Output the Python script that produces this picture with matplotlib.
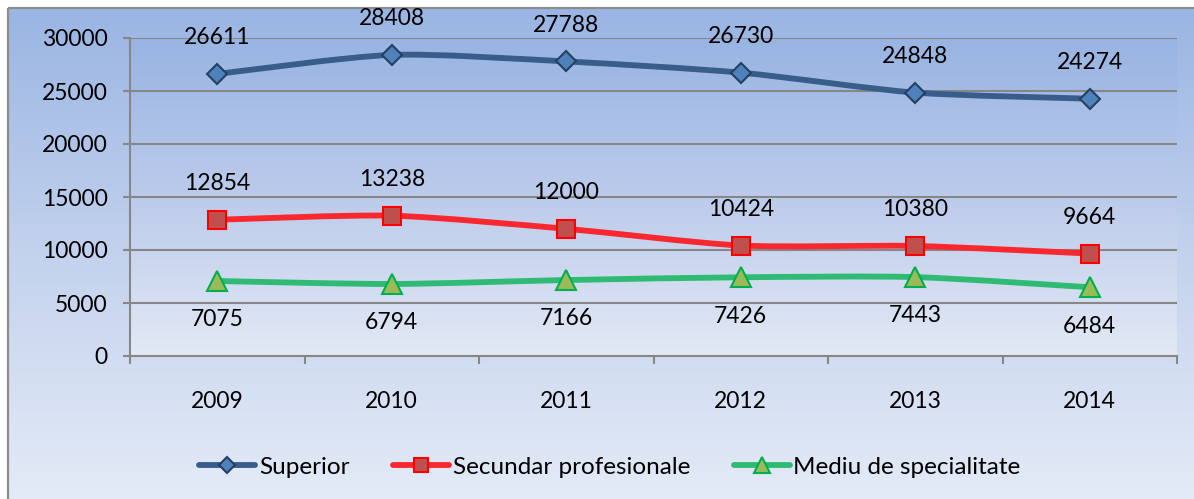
import numpy as np
import matplotlib
matplotlib.use('Agg')
import matplotlib.pyplot as plt
from matplotlib.path import Path
from matplotlib.patches import PathPatch, Rectangle
from matplotlib.colors import LinearSegmentedColormap
from matplotlib.lines import Line2D

plt.rcParams['font.family'] = ['Lato', 'DejaVu Sans']

# data
years = ['2009', '2010', '2011', '2012', '2013', '2014']
superior = [26611, 28408, 27788, 26730, 24848, 24274]
secundar = [12854, 13238, 12000, 10424, 10380, 9664]
mediu = [7075, 6794, 7166, 7426, 7443, 6484]
series_names = ['Superior', 'Secundar profesionale', 'Mediu de specialitate']
y_ticks = [0, 5000, 10000, 15000, 20000, 25000, 30000]

FS = 16.5
W, H = 1194, 499
fig = plt.figure(figsize=(W / 100, H / 100), dpi=100)
fig.patch.set_facecolor('white')

# outer chart area gradient
bg = fig.add_axes([0, 0, 1, 1], zorder=-5)
bg.set_xlim(0, W)
bg.set_ylim(H, 0)
bg.axis('off')
outer_cmap = LinearSegmentedColormap.from_list('outer', ['#9ab5e3', '#c3d2ed', '#e4ebf7'])
grad = np.linspace(0, 1, 256).reshape(-1, 1)
bg.imshow(grad, cmap=outer_cmap, extent=[8, W + 2, H + 2, 8], aspect='auto')
bg.add_patch(Rectangle((8, 8), W, H, fill=False, edgecolor='#8c8c8c', linewidth=1.6))

ax = fig.add_axes([130 / W, 1 - 356 / H, (1177 - 130) / W, (356 - 38) / H])
x = np.arange(len(years))
ax.set_xlim(-0.5, len(years) - 0.5)
ax.set_ylim(0, 30000)

inner_cmap = LinearSegmentedColormap.from_list('inner', ['#98b4e2', '#bccbeb', '#e3e9f5'])
ax.imshow(grad, cmap=inner_cmap, extent=[-0.5, len(years) - 0.5, 0, 30000],
          aspect='auto', zorder=0)

for yt in y_ticks[1:]:
    ax.axhline(yt, color='#878787', linewidth=1.5, zorder=1)


def smooth_path(xs, ys, k=8.0):
    # excel-like smoothed line: catmull-rom style cubic bezier
    pts = np.column_stack([xs, ys]).astype(float)
    verts = [pts[0]]
    codes = [Path.MOVETO]
    n = len(pts)
    for i in range(n - 1):
        p0 = pts[i - 1] if i > 0 else pts[i]
        p1 = pts[i]
        p2 = pts[i + 1]
        p3 = pts[i + 2] if i + 2 < n else pts[i + 1]
        c1 = p1 + (p2 - p0) / k
        c2 = p2 - (p3 - p1) / k
        verts += [c1, c2, p2]
        codes += [Path.CURVE4] * 3
    return Path(verts, codes)


styles = [
    dict(line='#385d8a', marker='D', ms=10, fc='#4f81bd', ec='#254061', lw=4.2),
    dict(line='#f9282f', marker='s', ms=12.5, fc='#c0504d', ec='#ff0000', lw=4.2),
    dict(line='#2fbb73', marker='^', ms=14, fc='#9bbb59', ec='#00b050', lw=4.2),
]
all_series = [superior, secundar, mediu]
label_offsets = [26, 26, -28]

handles = []
for vals, st, off, name in zip(all_series, styles, label_offsets, series_names):
    ax.add_patch(PathPatch(smooth_path(x, vals), facecolor='none', edgecolor=st['line'],
                           linewidth=st['lw'], capstyle='round', zorder=3))
    ax.plot(x, vals, linestyle='none', marker=st['marker'], markersize=st['ms'],
            markerfacecolor=st['fc'], markeredgecolor=st['ec'], markeredgewidth=1.5, zorder=4)
    for xi, v in zip(x, vals):
        ax.annotate(str(v), (xi, v), xytext=(0, off), textcoords='offset points',
                    ha='center', va='center', fontsize=FS, color='black', zorder=5)
    handles.append(Line2D([], [], color=st['line'], linewidth=st['lw'], marker=st['marker'],
                          markersize=st['ms'] * 0.8, markerfacecolor=st['fc'],
                          markeredgecolor=st['ec'], markeredgewidth=1.5,
                          solid_capstyle='round'))

ax.set_yticks(y_ticks)
ax.set_yticklabels([str(t) for t in y_ticks], fontsize=FS)
ax.set_xticks(x)
ax.set_xticklabels(years, fontsize=FS)
ax.set_xticks(np.arange(-0.5, len(years)), minor=True)
ax.tick_params(axis='x', which='major', length=0, pad=25)
ax.tick_params(axis='x', which='minor', length=6, width=1.5, color='#878787')
ax.tick_params(axis='y', length=5, width=1.5, color='#878787', pad=11)

for side in ['top', 'right']:
    ax.spines[side].set_visible(False)
for side in ['left', 'bottom']:
    ax.spines[side].set_color('#878787')
    ax.spines[side].set_linewidth(1.5)

fig.legend(handles, series_names, loc='center', bbox_to_anchor=(610 / W, 1 - 467 / H),
           ncol=3, frameon=False, fontsize=17.5, handlelength=2.3, handletextpad=0.15,
           columnspacing=1.8, borderpad=0)

fig.savefig('out.png', dpi=100)
